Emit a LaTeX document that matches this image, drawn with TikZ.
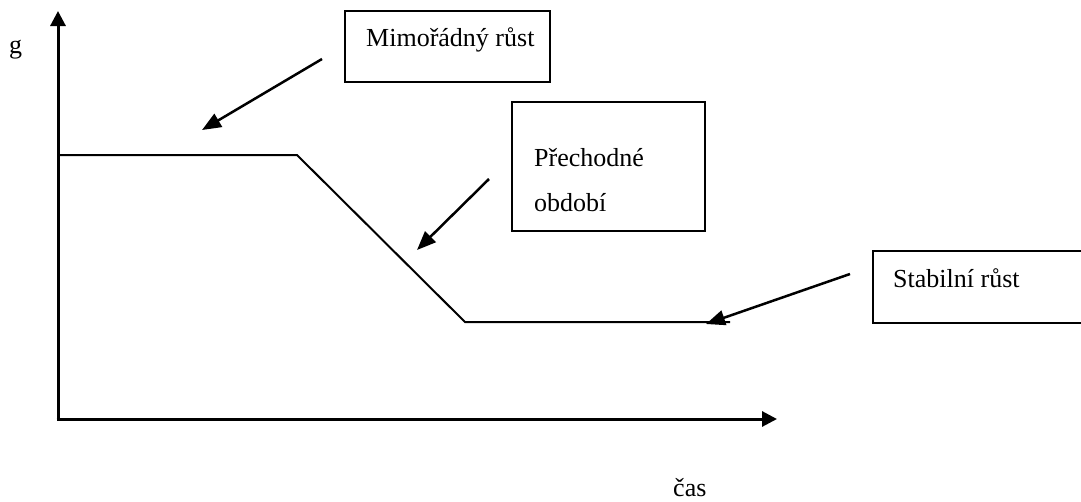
\documentclass[tikz,border=0pt]{standalone}
\usepackage{fontspec}
\setmainfont{Liberation Serif}
\usetikzlibrary{arrows.meta}
\begin{document}
\begin{tikzpicture}[x=1pt,y=-1pt,
  axis/.style={line width=3pt,-{Triangle[length=15pt,width=15pt]}},
  curve/.style={line width=2pt},
  pointer/.style={line width=2.5pt,-{Triangle[length=19pt,width=15pt]}},
  box/.style={draw,line width=2pt,rectangle,inner sep=0pt},
  lbl/.style={font=\fontsize{26}{30}\selectfont,inner sep=0pt,anchor=base west}]
\useasboundingbox (0,0) rectangle (1081,501);
\clip (0,0) rectangle (1081,501);
% axes
\coordinate (O) at (58,419);
\coordinate (ytop) at (58,11);
\coordinate (xend) at (777,419);
\draw[axis] (58,420.5) -- (ytop);
\draw[axis] (56.5,419) -- (xend);
\node[lbl] (g) at (9,53) {g};
\node[lbl] (cas) at (673,496) {čas};
% growth path
\coordinate (p0) at (58,155);
\coordinate (p1) at (297,155);
\coordinate (p2) at (465,322);
\coordinate (p3) at (730,322);
\draw[curve] (p0) -- (p1) -- (p2) -- (p3);
% boxes with labels
\node[box,minimum width=205pt,minimum height=71pt] (b1) at (447.5,46.5) {};
\node[lbl] (t1) at (366,46) {Mimořádný růst};
\node[box,minimum width=193pt,minimum height=129pt] (b2) at (608.5,166.5) {};
\node[lbl] (t2a) at (534,166) {Přechodné};
\node[lbl] (t2b) at (534,211) {období};
\node[box,minimum width=220pt,minimum height=72pt] (b3) at (983,287) {};
\node[lbl] (t3) at (893,287) {Stabilní růst};
% pointers
\coordinate (a1s) at (322,59);
\coordinate (a1e) at (202,130);
\coordinate (a2s) at (489,179);
\coordinate (a2e) at (417,250);
\coordinate (a3s) at (850,274);
\coordinate (a3e) at (706,324);
\draw[pointer] (a1s) -- (a1e);
\draw[pointer] (a2s) -- (a2e);
\draw[pointer] (a3s) -- (a3e);
\end{tikzpicture}
\end{document}
